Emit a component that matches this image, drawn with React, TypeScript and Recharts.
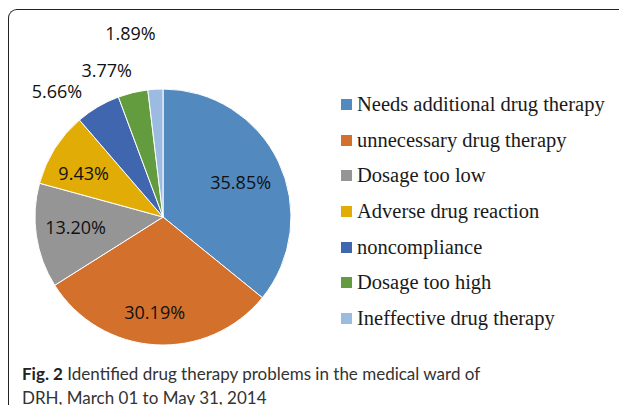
import { PieChart, Pie, Cell } from 'recharts';

const categories = [
  'Needs additional drug therapy',
  'unnecessary drug therapy',
  'Dosage too low',
  'Adverse drug reaction',
  'noncompliance',
  'Dosage too high',
  'Ineffective drug therapy',
];
const percents = [35.85, 30.19, 13.2, 9.43, 5.66, 3.77, 1.89];
const colors = ['#5289bf', '#d3702c', '#959595', '#e2ac06', '#4166b0', '#629c3f', '#9cbbe0'];

// label placement (distance from centre, angle nudge in degrees)
const labelRadius = [85, 95, 88, 91, 165, 157, 187];
const labelShift = [-1.5, -1.6, -2, 3, 9.4, 7.4, 6.6];

const data = categories.map((name, i) => ({ name, value: percents[i] }));

const RADIAN = Math.PI / 180;

const renderLabel = ({ cx, cy, midAngle, index }: any) => {
  const a = (midAngle + labelShift[index]) * RADIAN;
  const r = labelRadius[index];
  const x = cx + r * Math.cos(a);
  const y = cy - r * Math.sin(a);
  return (
    <text
      x={x}
      y={y}
      fill='#111'
      textAnchor='middle'
      dominantBaseline='central'
      style={{ fontFamily: '"Open Sans", sans-serif', fontSize: 18 }}
    >
      {`${percents[index].toFixed(2)}%`}
    </text>
  );
};

const LegendList = () => (
  <div
    style={{
      position: 'absolute',
      left: 341,
      top: 87,
      fontFamily: '"Times New Roman", "Liberation Serif", serif',
      fontSize: 20.5,
      color: '#1a1a1a',
    }}
  >
    {categories.map((c, i) => (
      <div key={c} style={{ display: 'flex', alignItems: 'center', height: 35.6, whiteSpace: 'nowrap' }}>
        <div style={{ width: 11, height: 11, background: colors[i], marginRight: 5 }} />
        <span>{c}</span>
      </div>
    ))}
  </div>
);

export default function App() {
  return (
    <div style={{ position: 'relative', width: 627, height: 413, margin: -8, background: '#fff', overflow: 'hidden' }}>
      <div
        style={{
          position: 'absolute',
          left: 8,
          top: 9,
          width: 640,
          height: 420,
          borderTop: '1.5px solid #222',
          borderLeft: '1.5px solid #222',
          borderTopLeftRadius: 9,
        }}
      />
      <div style={{ position: 'absolute', left: 0, top: 0 }}>
        <PieChart width={320} height={360} margin={{ top: 0, right: 0, bottom: 0, left: 0 }}>
          <Pie
            data={data}
            dataKey='value'
            cx={163}
            cy={217}
            outerRadius={128}
            startAngle={90}
            endAngle={-270}
            stroke='#fff'
            strokeWidth={1}
            label={renderLabel}
            labelLine={false}
            isAnimationActive={false}
          >
            {data.map((d, i) => (
              <Cell key={`cell-${i}`} fill={colors[i]} />
            ))}
          </Pie>
        </PieChart>
      </div>
      <LegendList />
      <div
        style={{
          position: 'absolute',
          left: 22,
          top: 362,
          width: 600,
          fontFamily: 'Lato, sans-serif',
          fontSize: 17,
          lineHeight: '24px',
          color: '#333',
        }}
      >
        <b style={{ color: '#222' }}>Fig. 2</b> Identified drug therapy problems in the medical ward of
        <br />
        DRH, March 01 to May 31, 2014
      </div>
    </div>
  );
}
